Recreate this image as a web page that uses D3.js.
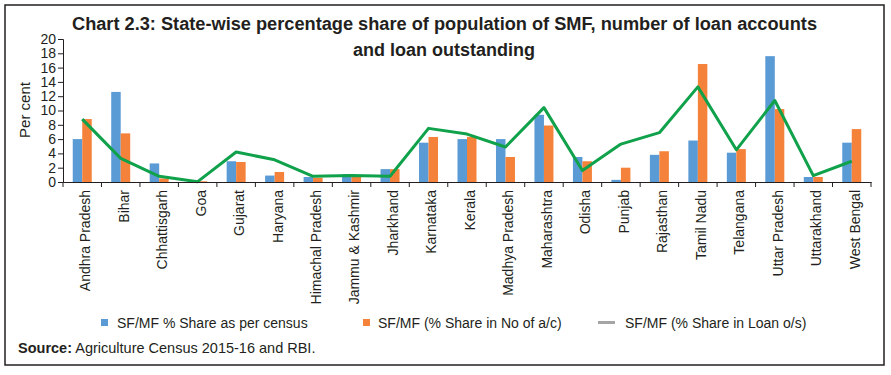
<!DOCTYPE html>
<html>
<head>
<meta charset="utf-8">
<script src="https://cdn.jsdelivr.net/npm/d3@7"></script>
<style>
  body { margin: 0; background: #fff; }
  text { font-family: Arial, "Liberation Sans", sans-serif; fill: #231f20; }
</style>
</head>
<body>
<svg id="chart" width="891" height="375"></svg>
<script>
// chart data
const states = ["Andhra Pradesh", "Bihar", "Chhattisgarh", "Goa", "Gujarat", "Haryana",
  "Himachal Pradesh", "Jammu & Kashmir", "Jharkhand", "Karnataka", "Kerala",
  "Madhya Pradesh", "Maharashtra", "Odisha", "Punjab", "Rajasthan", "Tamil Nadu",
  "Telangana", "Uttar Pradesh", "Uttarakhand", "West Bengal"];
const censusShare = [6.0, 12.6, 2.6, 0.0, 2.9, 0.9, 0.7, 1.1, 1.8, 5.5, 6.0,
  6.0, 9.4, 3.5, 0.3, 3.8, 5.8, 4.1, 17.6, 0.7, 5.5];
const accountShare = [8.8, 6.8, 0.5, 0.1, 2.8, 1.4, 0.6, 0.8, 1.8, 6.3, 6.3,
  3.5, 7.9, 2.9, 2.0, 4.3, 16.5, 4.6, 10.2, 0.7, 7.4];
const loanShare = [8.8, 3.3, 0.8, 0.05, 4.2, 3.1, 0.8, 0.9, 0.8, 7.5, 6.7,
  4.9, 10.4, 1.6, 5.3, 6.9, 13.3, 4.5, 11.4, 0.9, 2.9];
const yTicks = [0, 2, 4, 6, 8, 10, 12, 14, 16, 18, 20];
const seriesNames = ["SF/MF % Share as per census", "SF/MF (% Share in No of a/c)", "SF/MF (% Share in Loan o/s)"];

const blue = "#5b9bd5", orange = "#f5823a", green = "#10a14b", grey = "#a5a5a5";

const svg = d3.select("#chart");

// outer frame
svg.append("rect")
  .attr("x", 5).attr("y", 5).attr("width", 879).attr("height", 360)
  .attr("fill", "none").attr("stroke", "#231f20").attr("stroke-width", 1.5);

// title
svg.append("text")
  .attr("x", 444.5).attr("y", 30).attr("text-anchor", "middle")
  .attr("font-size", 17.5).attr("font-weight", "bold")
  .attr("textLength", 745).attr("lengthAdjust", "spacingAndGlyphs")
  .text("Chart 2.3: State-wise percentage share of population of SMF, number of loan accounts");
svg.append("text")
  .attr("x", 444).attr("y", 56).attr("text-anchor", "middle")
  .attr("font-size", 17.5).attr("font-weight", "bold")
  .attr("textLength", 182).attr("lengthAdjust", "spacingAndGlyphs")
  .text("and loan outstanding");

const x = d3.scaleBand().domain(states).range([63, 871]);
const y = d3.scaleLinear().domain([0, 20]).range([182, 39]);
const barW = 9.5;

// bars
svg.append("g").selectAll("rect")
  .data(states)
  .join("rect")
  .attr("x", d => x(d) + x.bandwidth() / 2 - barW)
  .attr("y", (d, i) => y(censusShare[i]))
  .attr("width", barW)
  .attr("height", (d, i) => y(0) - y(censusShare[i]))
  .attr("fill", blue);

svg.append("g").selectAll("rect")
  .data(states)
  .join("rect")
  .attr("x", d => x(d) + x.bandwidth() / 2)
  .attr("y", (d, i) => y(accountShare[i]))
  .attr("width", barW)
  .attr("height", (d, i) => y(0) - y(accountShare[i]))
  .attr("fill", orange);

// loan outstanding line
const line = d3.line()
  .x((d, i) => x(states[i]) + x.bandwidth() / 2)
  .y(d => y(d));
svg.append("path")
  .datum(loanShare)
  .attr("d", line)
  .attr("fill", "none")
  .attr("stroke", green)
  .attr("stroke-width", 3)
  .attr("stroke-linejoin", "round");

// y axis
const yAxis = svg.append("g")
  .attr("transform", "translate(63,0)")
  .call(d3.axisLeft(y).tickValues(yTicks).tickSize(5).tickPadding(2));
yAxis.select(".domain").attr("stroke", "#231f20");
yAxis.selectAll(".tick line").attr("stroke", "#231f20");
yAxis.selectAll(".tick text").attr("font-size", 14).attr("font-family", null).attr("fill", "#231f20");

// x axis
const xAxis = svg.append("g")
  .attr("transform", "translate(0,182)")
  .call(d3.axisBottom(x).tickSize(0).tickSizeOuter(0));
xAxis.select(".domain").attr("stroke", "#231f20").attr("stroke-width", 1.2);
xAxis.selectAll(".tick text")
  .attr("font-size", 14).attr("font-family", null).attr("fill", "#231f20")
  .attr("transform", "rotate(-90)")
  .attr("text-anchor", "end")
  .attr("x", -8).attr("y", 3).attr("dy", "0.35em");

// band boundary ticks
const edges = states.map(d => x(d)).concat([x.range()[1]]);
svg.append("g").selectAll("line")
  .data(edges)
  .join("line")
  .attr("x1", d => d).attr("x2", d => d)
  .attr("y1", 182).attr("y2", 187)
  .attr("stroke", "#231f20");

// y axis title
svg.append("text")
  .attr("transform", "translate(30,110) rotate(-90)")
  .attr("text-anchor", "middle")
  .attr("font-size", 15)
  .text("Per cent");

// legend
const legend = svg.append("g");
legend.append("rect").attr("x", 101).attr("y", 319).attr("width", 7).attr("height", 7).attr("fill", blue);
legend.append("text").attr("x", 117).attr("y", 328).attr("font-size", 14).text(seriesNames[0]);
legend.append("rect").attr("x", 363).attr("y", 319).attr("width", 7).attr("height", 7).attr("fill", orange);
legend.append("text").attr("x", 378).attr("y", 328).attr("font-size", 14).text(seriesNames[1]);
legend.append("line").attr("x1", 598).attr("x2", 615).attr("y1", 322.5).attr("y2", 322.5)
  .attr("stroke", grey).attr("stroke-width", 3);
legend.append("text").attr("x", 625).attr("y", 328).attr("font-size", 14).text(seriesNames[2]);

// source note
const src = svg.append("text").attr("x", 18).attr("y", 353).attr("font-size", 14.5);
src.append("tspan").attr("font-weight", "bold").text("Source:");
src.append("tspan").text(" Agriculture Census 2015-16 and RBI.");
</script>
</body>
</html>
